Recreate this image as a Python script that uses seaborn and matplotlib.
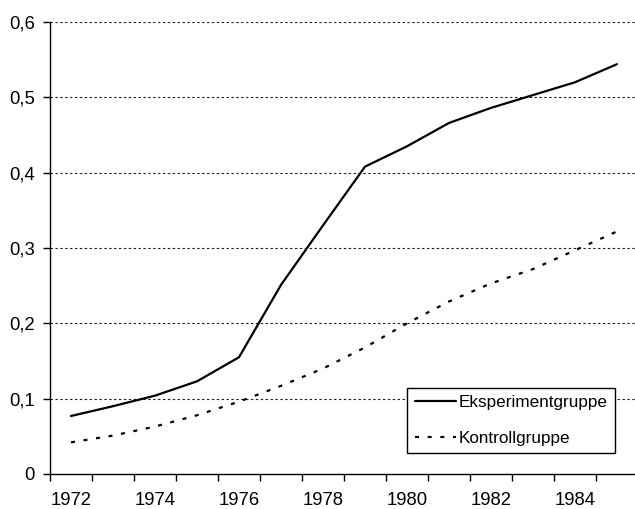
import matplotlib
matplotlib.use("Agg")
import matplotlib.pyplot as plt
from matplotlib.ticker import FixedLocator, FuncFormatter
import seaborn as sns
import pandas as pd

years = list(range(1972, 1986))
eksperiment = [0.077, 0.090, 0.104, 0.123, 0.155, 0.251, 0.330, 0.408,
               0.435, 0.466, 0.486, 0.503, 0.520, 0.544]
kontroll = [0.042, 0.051, 0.063, 0.078, 0.096, 0.117, 0.140, 0.168,
            0.200, 0.229, 0.253, 0.272, 0.297, 0.322]
series_names = ["Eksperimentgruppe", "Kontrollgruppe"]
y_ticks = [0, 0.1, 0.2, 0.3, 0.4, 0.5, 0.6]
x_label_years = [1972, 1974, 1976, 1978, 1980, 1982, 1984]

sns.set_theme(style="white")
plt.rcParams["font.family"] = ["Liberation Sans", "DejaVu Sans"]

df = pd.DataFrame({
    "year": years * 2,
    "value": eksperiment + kontroll,
    "group": [series_names[0]] * len(years) + [series_names[1]] * len(years),
})

fig = plt.figure(figsize=(6.35, 5.09), dpi=100)
ax = fig.add_axes([50 / 635, (509 - 474) / 509, 588 / 635, 452 / 509])

sns.lineplot(data=df, x="year", y="value", hue="group", style="group",
             palette={series_names[0]: "black", series_names[1]: "black"},
             dashes={series_names[0]: "", series_names[1]: (1.8, 3.9)},
             linewidth=1.6, ax=ax, legend=True)

ax.set_xlim(years[0] - 0.5, years[-1] + 0.5)
ax.set_ylim(0, 0.6)
ax.set_xlabel("")
ax.set_ylabel("")

ax.yaxis.set_major_locator(FixedLocator(y_ticks))
ax.yaxis.set_major_formatter(FuncFormatter(
    lambda v, p: "0" if abs(v) < 1e-9 else f"{v:.1f}".replace(".", ",")))
ax.xaxis.set_major_locator(FixedLocator(x_label_years))
ax.xaxis.set_major_formatter(FuncFormatter(lambda v, p: f"{int(round(v))}"))
ax.xaxis.set_minor_locator(FixedLocator([y - 0.5 for y in years] + [years[-1] + 0.5]))

ax.tick_params(axis="x", which="major", length=0, labelsize=13.3, pad=13, colors="black")
ax.tick_params(axis="x", which="minor", length=5, width=1, direction="out",
               bottom=True, color="black")
ax.tick_params(axis="y", which="major", length=5, width=1, direction="out",
               left=True, labelsize=13.3, pad=6, colors="black")

for yv in y_ticks[1:]:
    ax.axhline(yv, color="#222222", linewidth=0.8, linestyle=(0, (2.2, 2.2)), zorder=0)

for side in ["top", "right"]:
    ax.spines[side].set_visible(False)
for side in ["left", "bottom"]:
    ax.spines[side].set_color("black")
    ax.spines[side].set_linewidth(1.0)

leg = ax.legend(loc="lower left", bbox_to_anchor=(0.6077, 0.047),
                fontsize=12.3, frameon=True, fancybox=False, framealpha=1,
                edgecolor="black", handlelength=2.45, handletextpad=0.12,
                labelspacing=1.21, borderpad=0.42, borderaxespad=0)
leg.get_frame().set_linewidth(1.0)
for t in leg.get_texts():
    t.set_color("black")

fig.savefig("out.png", dpi=100)
